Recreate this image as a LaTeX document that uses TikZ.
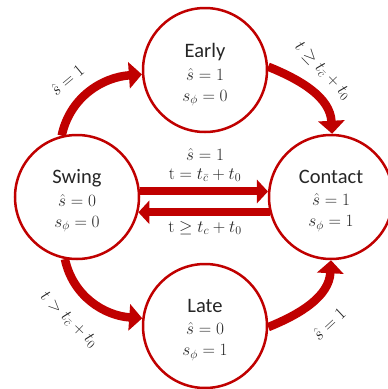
\documentclass[tikz,border=0pt]{standalone}
\usepackage[no-math]{fontspec}
\setmainfont{Carlito}
\usetikzlibrary{arrows.meta}
\definecolor{dred}{HTML}{C00000}
\begin{document}
\begin{tikzpicture}[x=1pt,y=-1pt,
  state/.style={circle, draw=dred, line width=2.5pt, fill=white, minimum size=124pt, inner sep=0pt},
  stxt/.style={align=center, text=black!85, inner sep=0pt, font=\fontsize{17.5}{21}\selectfont},
  flow/.style={draw=dred, line width=8pt, -{Triangle[length=11pt,width=23pt]}},
  curvflow/.style={draw=dred, line width=8.5pt, -{Triangle[length=13pt,width=26pt]}},
  lab/.style={font=\fontsize{17}{19}\selectfont, text=black!85, inner sep=1pt}]
\useasboundingbox (0,0) rectangle (388,389);
\fill[white] (0,0) rectangle (388,389);
\node[state] (Early) at (205,70) {};
\node[state] (Swing) at (77,197) {};
\node[state] (Contact) at (331,197) {};
\node[state] (Late) at (205,326) {};
\node[stxt] (EarlyT) at (205,75) {{\fontsize{20.5}{22}\selectfont Early}\\[1.5pt] $\hat{s}=1$\\ $s_\phi=0$};
\node[stxt] (SwingT) at (77,201) {{\fontsize{20.5}{22}\selectfont Swing}\\[1.5pt] $\hat{s}=0$\\ $s_\phi=0$};
\node[stxt] (ContactT) at (331,201) {{\fontsize{20.5}{22}\selectfont Contact}\\[1.5pt] $\hat{s}=1$\\ $s_\phi=1$};
\node[stxt] (LateT) at (205,330) {{\fontsize{20.5}{22}\selectfont Late}\\[1.5pt] $\hat{s}=0$\\ $s_\phi=1$};
\draw[curvflow] (Swing.104) to[out=78,in=184] (Early.184);
\draw[curvflow] (Early.3) to[out=-22,in=93] (Contact.89);
\draw[curvflow] (Swing.259) to[out=-78,in=176] (Late.173);
\draw[curvflow] (Late.-1) to[out=22,in=-93] (Contact.270);
\draw[flow] (Swing.5) -- (Contact.175);
\draw[flow] (Contact.194) -- (Swing.-14);
\node[lab] (l1) at (205,154) {$\hat{s}=1$};
\node[lab] (l2) at (205,175) {$\mathrm{t}=t_{\bar{c}}+t_0$};
\node[lab] (l3) at (205,228) {$\mathrm{t}\geq t_c+t_0$};
\node[lab, rotate=40] (l4) at (67,80) {$\hat{s}=1$};
\node[lab, rotate=-46] (l5) at (323,71) {$t\geq t_{\bar{c}}+t_0$};
\node[lab, rotate=-44] (l6) at (69,320) {$t>t_{\bar{c}}+t_0$};
\node[lab, rotate=43] (l7) at (329,324) {$\hat{s}=1$};
\end{tikzpicture}
\end{document}
